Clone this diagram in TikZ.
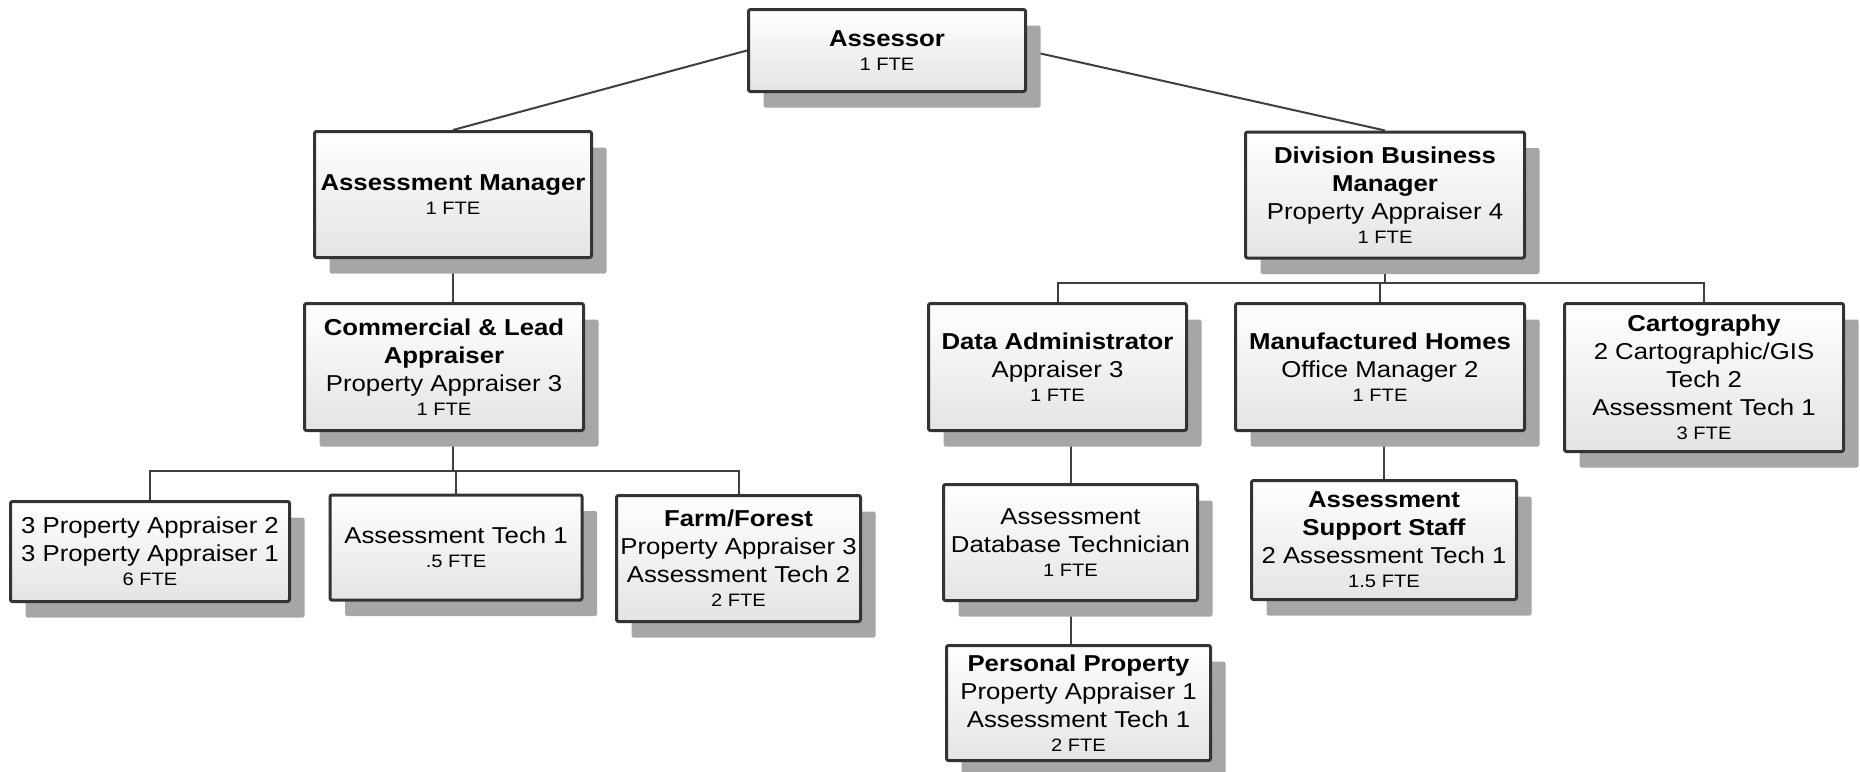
\documentclass[tikz,border=0pt]{standalone}
\usepackage{fontspec}
\setmainfont{Liberation Sans}[FakeStretch=1.12]
\usetikzlibrary{shadows}
\pgfdeclarelayer{background}
\pgfsetlayers{background,main}
\definecolor{boxline}{HTML}{333333}
\definecolor{connline}{HTML}{3F3F3F}
\definecolor{shadowgray}{HTML}{A6A6A6}
\definecolor{boxbot}{HTML}{E4E4E4}
\newcommand{\orgB}[1]{{\fontsize{23}{28}\selectfont\bfseries #1}}
\newcommand{\orgR}[1]{{\fontsize{23}{28}\selectfont #1}}
\newcommand{\orgF}[1]{{\fontsize{18}{22}\selectfont #1}}
\begin{document}
\begin{tikzpicture}[x=1pt,y=-1pt,
  orgbox/.style={draw=boxline, line width=3pt, rounded corners=2pt,
    top color=white, bottom color=boxbot, align=center, inner sep=0pt,
    drop shadow={shadow xshift=15pt, shadow yshift=-16pt, fill=shadowgray, opacity=1},
    font=\fontsize{23}{28}\selectfont},
  orgline/.style={draw=connline, line width=2pt}]
\useasboundingbox (0,0) rectangle (1860,771);

\node[orgbox, minimum width=277pt, minimum height=82pt] (assessor) at (887,50.5)
  {\orgB{Assessor}\\[-4pt]\orgF{1 FTE}};
\node[orgbox, minimum width=277pt, minimum height=126pt] (am) at (453,194.5)
  {\orgB{Assessment Manager}\\[-4pt]\orgF{1 FTE}};
\node[orgbox, minimum width=279pt, minimum height=126pt] (dbm) at (1385,195)
  {\orgB{Division Business}\\\orgB{Manager}\\\orgR{Property Appraiser 4}\\[-4pt]\orgF{1 FTE}};
\node[orgbox, minimum width=279pt, minimum height=127pt] (cla) at (444,367)
  {\orgB{Commercial \& Lead}\\\orgB{Appraiser}\\\orgR{Property Appraiser 3}\\[-4pt]\orgF{1 FTE}};
\node[orgbox, minimum width=279pt, minimum height=100pt] (pa) at (150,551.5)
  {\orgR{3 Property Appraiser 2}\\\orgR{3 Property Appraiser 1}\\[-4pt]\orgF{6 FTE}};
\node[orgbox, minimum width=252pt, minimum height=105pt] (at) at (456,547.5)
  {\orgR{Assessment Tech 1}\\[-4pt]\orgF{.5 FTE}};
\node[orgbox, minimum width=244pt, minimum height=126pt] (ff) at (738.5,558.5)
  {\orgB{Farm/Forest}\\\orgR{Property Appraiser 3}\\\orgR{Assessment Tech 2}\\[-4pt]\orgF{2 FTE}};
\node[orgbox, minimum width=258pt, minimum height=127pt] (da) at (1057.5,367)
  {\orgB{Data Administrator}\\\orgR{Appraiser 3}\\[-4pt]\orgF{1 FTE}};
\node[orgbox, minimum width=289pt, minimum height=127pt] (mh) at (1380,367)
  {\orgB{Manufactured Homes}\\\orgR{Office Manager 2}\\[-4pt]\orgF{1 FTE}};
\node[orgbox, minimum width=279pt, minimum height=148pt] (carto) at (1704,377.5)
  {\orgB{Cartography}\\\orgR{2 Cartographic/GIS}\\\orgR{Tech 2}\\\orgR{Assessment Tech 1}\\[-4pt]\orgF{3 FTE}};
\node[orgbox, minimum width=254pt, minimum height=116pt] (adt) at (1070.5,542.5)
  {\orgR{Assessment}\\\orgR{Database Technician}\\[-4pt]\orgF{1 FTE}};
\node[orgbox, minimum width=265pt, minimum height=119pt] (ass) at (1384,540)
  {\orgB{Assessment}\\\orgB{Support Staff}\\\orgR{2 Assessment Tech 1}\\[-4pt]\orgF{1.5 FTE}};
\node[orgbox, minimum width=264pt, minimum height=115pt] (pp) at (1078.5,703)
  {\orgB{Personal Property}\\\orgR{Property Appraiser 1}\\\orgR{Assessment Tech 1}\\[-4pt]\orgF{2 FTE}};

\coordinate (busL) at (0,471);
\coordinate (busR) at (0,283);

\begin{pgfonlayer}{background}
\draw[orgline] (assessor.west) -- (am.north);
\draw[orgline] (assessor.east) -- (dbm.north);
\draw[orgline] (am.south) -- (am.south |- cla.north);
\draw[orgline] (am.south |- cla.south) -- (am.south |- busL);
\draw[orgline] (pa.north) -- (pa.north |- busL) -- (ff.north |- busL) -- (ff.north);
\draw[orgline] (at.north) -- (at.north |- busL);
\draw[orgline] (dbm.south) -- (dbm.south |- busR);
\draw[orgline] (da.north) -- (da.north |- busR) -- (carto.north |- busR) -- (carto.north);
\draw[orgline] (mh.north) -- (mh.north |- busR);
\draw[orgline] (adt.north |- da.south) -- (adt.north);
\draw[orgline] (adt.south) -- (adt.south |- pp.north);
\draw[orgline] (ass.north |- mh.south) -- (ass.north);
\end{pgfonlayer}
\end{tikzpicture}
\end{document}
